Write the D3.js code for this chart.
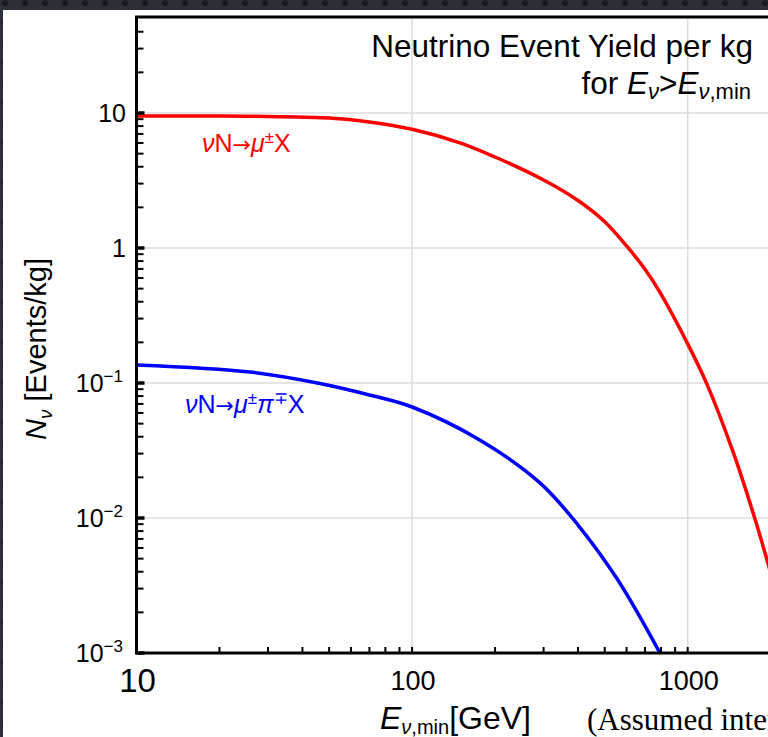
<!DOCTYPE html>
<html>
<head>
<meta charset="utf-8">
<script src="https://cdn.jsdelivr.net/npm/d3@7"></script>
<style>
    html, body { margin: 0; padding: 0; background: #2c2f35; }
    svg { display: block; }
    text { font-family: "Liberation Sans", Arial, sans-serif; fill: #000; }
    .arrow { font-family: "DejaVu Sans", sans-serif; }
</style>
</head>
<body>
<script>
// DATA

var energyRed = [10, 20, 30, 50, 70, 100, 150, 200, 300, 400, 500, 600, 700, 800, 1000, 1170, 1460, 1750, 2000];
var muonYield = [9.5, 9.5, 9.42, 9.18, 8.58, 7.57, 5.99, 4.72, 3.19, 2.25, 1.566, 1.036, 0.695, 0.456, 0.195, 0.0997, 0.031, 0.01, 0.00394];

var energyBlue = [10, 25.8, 46.3, 70, 100, 176, 291, 400, 558, 793];
var pionYield = [0.136, 0.1205, 0.0991, 0.0815, 0.0664, 0.0378, 0.0182, 0.00887, 0.00347, 0.001];

var xTickValues = [10, 100, 1000];
var xTickLabels = ['10', '100', '1000'];
var yTickValues = [1e-3, 1e-2, 1e-1, 1, 10];
var yTickBase = ['10', '10', '10', '1', '10'];
var yTickExp = ['\u22123', '\u22122', '\u22121', '', ''];

window.CHART = {
    init: function () {
        var self = this;

        // PROPERTIES
        self.width = 768;
        self.height = 737;
        self.left = 136.5;
        self.top = 17;
        self.bottom = 653;

        // SVG Setup
        self.svg = d3.select('body').append('svg')
            .attr('width', self.width)
            .attr('height', self.height);

        self.x = d3.scaleLog().domain([10, 1000]).range([136.5, 687.7]);
        self.y = d3.scaleLog().domain([1e-3, 10]).range([653, 113]);

        self.draw();
    },
    label: function (sel, parts) {
        // parts: [text, kind] where kind is 'i' italic, 'sup', 'arrow' or ''
        var shift = 0;
        parts.forEach(function (p) {
            var t = sel.append('tspan').text(p[0]),
                dy = 0;
            if (p[1] === 'i') { t.attr('font-style', 'italic'); }
            if (p[1] === 'arrow') { t.attr('class', 'arrow').attr('font-size', 22); }
            if (p[1] === 'sup') { t.attr('font-size', 17); dy = -9; }
            if (dy - shift !== 0) { t.attr('dy', dy - shift); }
            shift = dy;
        });
    },
    draw: function () {
        var self = this,
            svg = self.svg,
            x = self.x,
            y = self.y,
            defs = svg.append('defs'),
            minorX = [],
            minorY = [];

        // dark page behind the white figure
        var pat = defs.append('pattern').attr('id', 'dots')
            .attr('width', 20).attr('height', 20).attr('patternUnits', 'userSpaceOnUse');
        pat.append('rect').attr('width', 20).attr('height', 20).attr('fill', '#2c2f35');
        pat.append('circle').attr('cx', 5).attr('cy', 3).attr('r', 3).attr('fill', '#18191c');
        svg.append('rect').attr('width', self.width).attr('height', self.height).attr('fill', 'url(#dots)');
        svg.append('rect').attr('x', 3).attr('y', 10)
            .attr('width', self.width - 3).attr('height', self.height - 10).attr('fill', '#fff');

        defs.append('clipPath').attr('id', 'plot').append('rect')
            .attr('x', self.left).attr('y', self.top)
            .attr('width', self.width - self.left).attr('height', self.bottom - self.top);

        // grid
        var grid = svg.append('g').attr('stroke', '#dcdcdc').attr('stroke-width', 1.5);
        grid.selectAll('line.gx').data([100, 1000]).enter().append('line')
            .attr('x1', function (d) { return x(d); }).attr('x2', function (d) { return x(d); })
            .attr('y1', self.top).attr('y2', self.bottom);
        grid.selectAll('line.gy').data([1e-2, 1e-1, 1, 10]).enter().append('line')
            .attr('y1', function (d) { return y(d); }).attr('y2', function (d) { return y(d); })
            .attr('x1', self.left).attr('x2', self.width);

        // curves
        var line = d3.line()
            .x(function (d) { return x(d[0]); })
            .y(function (d) { return y(d[1]); })
            .curve(d3.curveCatmullRom.alpha(0.5));

        var curves = svg.append('g').attr('clip-path', 'url(#plot)').attr('fill', 'none')
            .attr('stroke-width', 3.5).attr('stroke-linejoin', 'round');
        curves.append('path').attr('stroke', '#ff0000')
            .attr('d', line(d3.zip(energyRed, muonYield)));
        curves.append('path').attr('stroke', '#0000ff')
            .attr('d', line(d3.zip(energyBlue, pionYield)));

        // minor ticks
        [10, 100, 1000].forEach(function (dec) {
            for (var m = 2; m <= 9; m++) { minorX.push(dec * m); }
        });
        [1e-3, 1e-2, 1e-1, 1, 10].forEach(function (dec) {
            for (var m = 2; m <= 9; m++) { minorY.push(dec * m); }
        });
        minorX = minorX.filter(function (d) { return x(d) < self.width; });
        minorY = minorY.filter(function (d) { return y(d) > self.top + 5; });

        var ticks = svg.append('g').attr('stroke', '#000');
        ticks.selectAll('line.tx').data(minorX.concat(xTickValues)).enter().append('line')
            .attr('stroke-width', 2)
            .attr('x1', function (d) { return x(d); }).attr('x2', function (d) { return x(d); })
            .attr('y1', self.bottom).attr('y2', self.bottom - 6);
        ticks.selectAll('line.ty').data(minorY).enter().append('line')
            .attr('stroke-width', 2)
            .attr('y1', function (d) { return y(d); }).attr('y2', function (d) { return y(d); })
            .attr('x1', self.left).attr('x2', self.left + 7);
        ticks.selectAll('line.tyM').data(yTickValues).enter().append('line')
            .attr('stroke-width', 3.5)
            .attr('y1', function (d) { return y(d); }).attr('y2', function (d) { return y(d); })
            .attr('x1', self.left).attr('x2', self.left + 8);

        // frame
        svg.append('path').attr('fill', 'none').attr('stroke', '#000').attr('stroke-width', 3)
            .attr('d', 'M' + self.width + ',' + self.top + 'H' + self.left + 'V' + self.bottom + 'H' + self.width);

        // x tick labels
        svg.selectAll('text.xt').data(xTickValues).enter().append('text')
            .attr('text-anchor', 'middle')
            .attr('x', function (d) { return x(d) + 1; })
            .attr('y', function (d, i) { return i === 0 ? 692 : 690; })
            .attr('font-size', function (d, i) { return i === 0 ? 33 : 27; })
            .text(function (d, i) { return xTickLabels[i]; });

        // y tick labels
        var yt = svg.selectAll('text.yt').data(yTickValues).enter().append('text')
            .attr('text-anchor', 'end')
            .attr('font-size', 25)
            .attr('x', function (d, i) { return yTickExp[i] ? 123 : 126; })
            .attr('y', function (d) { return y(d) + 9; });
        yt.append('tspan').text(function (d, i) { return yTickBase[i]; });
        yt.append('tspan').attr('font-size', 17).attr('dy', -10)
            .text(function (d, i) { return yTickExp[i]; });

        // axis titles
        var yl = svg.append('text').attr('font-size', 29).attr('text-anchor', 'middle')
            .attr('transform', 'translate(46,349) rotate(-90)');
        yl.append('tspan').attr('font-style', 'italic').text('N');
        yl.append('tspan').attr('font-style', 'italic').attr('font-size', 19).attr('dy', 6).text('\u03bd');
        yl.append('tspan').attr('dy', -6).text(' [Events/kg]');

        var xl = svg.append('text').attr('font-size', 32).attr('x', 380).attr('y', 729);
        xl.append('tspan').attr('font-style', 'italic').text('E');
        xl.append('tspan').attr('font-size', 20).attr('dy', 5)
            .html('<tspan font-style="italic">\u03bd</tspan>,min');
        xl.append('tspan').attr('dy', -5).text('[GeV]');

        svg.append('text').attr('x', 587).attr('y', 730).attr('font-size', 31)
            .style('font-family', '"Liberation Serif", "Times New Roman", serif')
            .text('(Assumed interaction rate)');

        // title
        svg.append('text').attr('text-anchor', 'end').attr('x', 753).attr('y', 57)
            .attr('font-size', 31.5).text('Neutrino Event Yield per kg');
        var t2 = svg.append('text').attr('text-anchor', 'end').attr('x', 751).attr('y', 94)
            .attr('font-size', 31.5);
        t2.append('tspan').text('for ');
        t2.append('tspan').attr('font-style', 'italic').text('E');
        t2.append('tspan').attr('font-style', 'italic').attr('font-size', 22).attr('dy', 5).text('\u03bd');
        t2.append('tspan').attr('dy', -5).text('>');
        t2.append('tspan').attr('font-style', 'italic').text('E');
        t2.append('tspan').attr('font-size', 22).attr('dy', 5)
            .html('<tspan font-style="italic">\u03bd</tspan>,min');

        // curve labels
        var lr = svg.append('text').attr('x', 202).attr('y', 152).attr('font-size', 25)
            .style('fill', '#ff0000');
        self.label(lr, [['\u03bd', 'i'], ['N', ''], ['\u2192', 'arrow'], ['\u03bc', 'i'], ['\u00b1', 'sup'], ['X', '']]);

        var lb = svg.append('text').attr('x', 185).attr('y', 413).attr('font-size', 25)
            .style('fill', '#0000ff');
        self.label(lb, [['\u03bd', 'i'], ['N', ''], ['\u2192', 'arrow'], ['\u03bc', 'i'], ['\u00b1', 'sup'],
            ['\u03c0', 'i'], ['\u2213', 'sup'], ['X', '']]);
    }
};

CHART.init();
</script>
</body>
</html>
